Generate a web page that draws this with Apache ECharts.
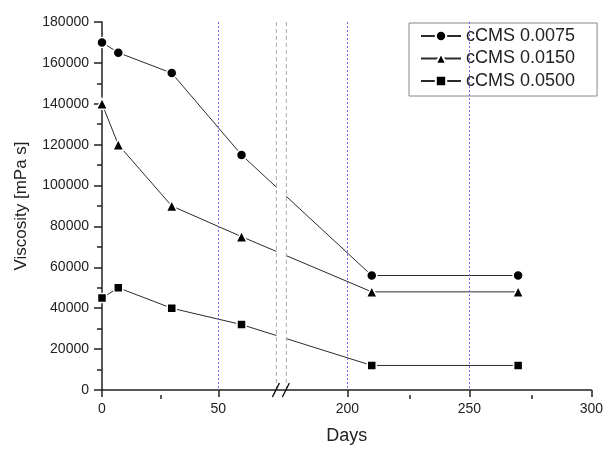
<!DOCTYPE html>
<html lang="en">
<head>
    <meta charset="UTF-8">
    <title>Viscosity</title>
    <style>
        html, body {
            margin: 0;
            padding: 0;
            background: #fff;
        }

        #chart-canvas {
            width: 606px;
            height: 450px;
        }
    </style>
</head>
<body>
<div id="chart-canvas"></div>
<script src="https://cdn.jsdelivr.net/npm/echarts@6/dist/echarts.min.js"></script>
<script type="text/javascript">
    // values
    const days = [0, 7, 30, 60, 210, 270];
    const visc0075 = [170000, 165000, 155000, 115000, 56000, 56000];
    const visc0150 = [140000, 120000, 90000, 75000, 48000, 48000];
    const visc0500 = [45000, 50000, 40000, 32000, 12000, 12000];
    const seriesNames = ['cCMS 0.0075', 'cCMS 0.0150', 'cCMS 0.0500'];

    const majorTicks = [0, 50, 200, 250, 300];
    const minorTicks = [25, 225, 275];
    const guideDays = [50, 200, 250];
    const axisBreak = [75, 175];

    // broken x axis: 0-75 and 175-300 laid on one continuous value axis
    const leftLen = 175, gapLen = 10, rightLen = 306;
    const axisMax = leftLen + gapLen + rightLen;

    function toPos(d) {
        if (d <= axisBreak[0]) return d / axisBreak[0] * leftLen;
        return leftLen + gapLen + (d - axisBreak[1]) / (300 - axisBreak[1]) * rightLen;
    }

    function fromPos(p) {
        if (p <= leftLen) return p / leftLen * axisBreak[0];
        return axisBreak[1] + (p - leftLen - gapLen) / rightLen * (300 - axisBreak[1]);
    }

    const font = '"Liberation Sans", Arial, sans-serif';
    const ink = '#222';

    function lineSeries(name, values, symbol, size) {
        return {
            name: name,
            type: 'line',
            z: 2,
            data: days.map((d, i) => [toPos(d), values[i]]),
            symbol: symbol,
            symbolSize: size,
            showAllSymbol: true,
            lineStyle: {color: '#2a2a2a', width: 1},
            itemStyle: {color: '#000', borderColor: '#fff', borderWidth: 1.5},
            emphasis: {disabled: true}
        };
    }

    const series = [
        lineSeries(seriesNames[0], visc0075, 'circle', 10),
        lineSeries(seriesNames[1], visc0150, 'triangle', 11),
        lineSeries(seriesNames[2], visc0500, 'rect', 9)
    ];

    // white gap, dashed edges and // marks at the axis break
    series.push({
        type: 'custom',
        silent: true,
        z: 10,
        clip: false,
        encode: {x: [0, 1]},
        data: [[toPos(axisBreak[0]), toPos(axisBreak[1])]],
        renderItem: function (params, api) {
            const top = api.coord([api.value(0), 180000]);
            const a = api.coord([api.value(0), 0]);
            const b = api.coord([api.value(1), 0]);
            const dash = {stroke: '#aaa', lineDash: [4, 3], lineWidth: 1};
            const slash = {stroke: '#000', lineWidth: 1.3};
            return {
                type: 'group',
                children: [
                    {type: 'rect', shape: {x: a[0], y: top[1], width: b[0] - a[0], height: a[1] - top[1] - 1}, style: {fill: '#fff'}},
                    {type: 'line', shape: {x1: a[0], y1: top[1], x2: a[0], y2: a[1]}, style: dash},
                    {type: 'line', shape: {x1: b[0], y1: top[1], x2: b[0], y2: b[1]}, style: dash},
                    {type: 'line', shape: {x1: a[0] - 4, y1: a[1] + 7, x2: a[0] + 3, y2: a[1] - 7}, style: slash},
                    {type: 'line', shape: {x1: b[0] - 4, y1: b[1] + 7, x2: b[0] + 3, y2: b[1] - 7}, style: slash}
                ]
            };
        }
    });

    // blue dotted guides, one custom item per day
    series.push({
        type: 'custom',
        silent: true,
        z: 11,
        clip: false,
        encode: {x: 0},
        data: guideDays.map(d => [toPos(d)]),
        renderItem: function (params, api) {
            const x = Math.round(api.coord([api.value(0), 0])[0]) + 0.5;
            const top = api.coord([api.value(0), 180000])[1];
            const bottom = api.coord([api.value(0), 0])[1];
            return {
                type: 'line',
                shape: {x1: x, y1: top, x2: x, y2: bottom},
                style: {stroke: '#6a6af0', lineDash: [2, 2], lineWidth: 1}
            };
        }
    });

    const tickStyle = {color: ink, width: 1.5};

    let myChart = echarts.init(document.getElementById('chart-canvas'));
    myChart.setOption({
        animation: false,
        textStyle: {fontFamily: font},
        grid: [
            {left: 102, right: 13, top: 22, bottom: 55},
            {left: 102, right: 13, top: 22, bottom: 55}
        ],
        legend: {
            data: seriesNames,
            orient: 'vertical',
            left: 409,
            top: 23,
            itemWidth: 40,
            itemHeight: 13,
            itemGap: 2.5,
            padding: [3, 22, 5, 11],
            borderColor: '#888',
            borderWidth: 1,
            backgroundColor: '#fff',
            textStyle: {fontSize: 18, color: ink, lineHeight: 20, fontFamily: font}
        },
        xAxis: [
            {
                type: 'value',
                min: 0,
                max: axisMax,
                name: 'Days',
                nameLocation: 'middle',
                nameGap: 37,
                nameTextStyle: {fontSize: 18, color: ink},
                axisLine: {show: true, onZero: false, lineStyle: tickStyle},
                axisTick: {show: true, length: 7, customValues: majorTicks.map(toPos), lineStyle: tickStyle},
                axisLabel: {
                    customValues: majorTicks.map(toPos),
                    formatter: v => String(Math.round(fromPos(v))),
                    fontSize: 14,
                    color: ink,
                    margin: 12
                },
                splitLine: {show: false}
            },
            {
                gridIndex: 1,
                type: 'value',
                min: 0,
                max: axisMax,
                axisLine: {show: false},
                axisTick: {show: true, length: 4, customValues: minorTicks.map(toPos), lineStyle: tickStyle},
                axisLabel: {show: false},
                splitLine: {show: false}
            }
        ],
        yAxis: [
            {
                type: 'value',
                min: 0,
                max: 180000,
                interval: 20000,
                name: 'Viscosity [mPa s]',
                nameLocation: 'middle',
                nameGap: 72,
                nameTextStyle: {fontSize: 17, color: ink},
                axisLine: {show: true, lineStyle: tickStyle},
                axisTick: {show: true, length: 8, lineStyle: tickStyle},
                minorTick: {show: true, splitNumber: 2, length: 5, lineStyle: tickStyle},
                axisLabel: {fontSize: 14, color: ink, margin: 13, formatter: v => String(v)},
                splitLine: {show: false}
            },
            {
                gridIndex: 1,
                type: 'value',
                min: 0,
                max: 180000,
                show: false
            }
        ],
        series: series
    });
</script>
</body>
</html>
